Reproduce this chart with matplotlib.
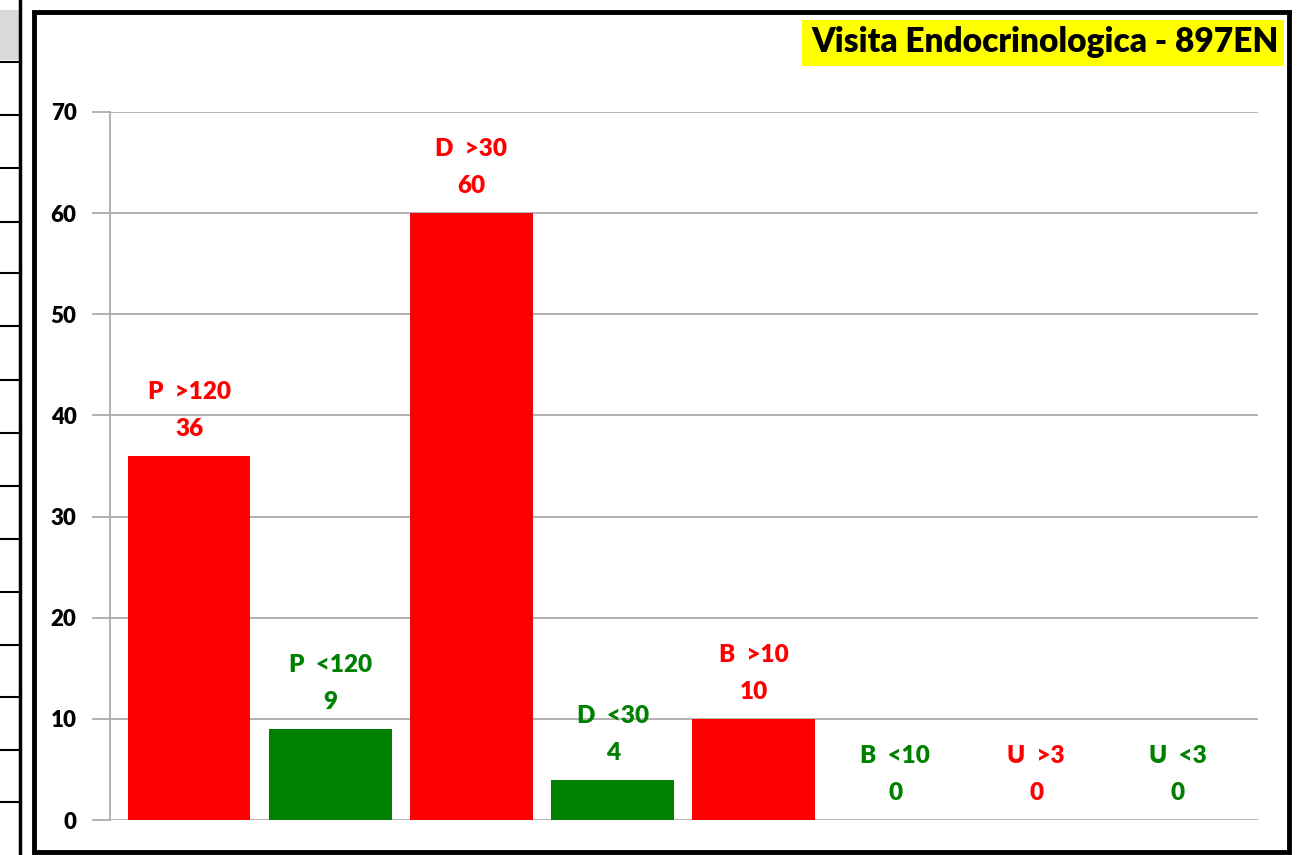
import matplotlib.pyplot as plt
from matplotlib.patches import Rectangle
from matplotlib.lines import Line2D

# chart data
categories = ["P  >120", "P  <120", "D  >30", "D  <30", "B  >10", "B  <10", "U  >3", "U  <3"]
values = [36, 9, 60, 4, 10, 0, 0, 0]
colors = ["#FF0000", "#008000", "#FF0000", "#008000", "#FF0000", "#008000", "#FF0000", "#008000"]
yticks = [0, 10, 20, 30, 40, 50, 60, 70]
title = "Visita Endocrinologica - 897EN"

plt.rcParams['font.family'] = ['Lato', 'DejaVu Sans']

W, H = 1307, 855
fig = plt.figure(figsize=(W / 100, H / 100), dpi=100)

def fx(px):
    return px / W

def fy(py):
    return 1 - py / H

# partial table on the far left
fig.add_artist(Rectangle((0, fy(60)), fx(20), fy(10) - fy(60), transform=fig.transFigure,
                         facecolor="#D9D9D9", edgecolor="none"))
for yy in [62, 115, 168, 222, 273, 326, 380, 433, 486, 539, 592, 645, 697, 750, 802]:
    fig.add_artist(Line2D([0, fx(20)], [fy(yy), fy(yy)], transform=fig.transFigure,
                          color="black", lw=1.5))
fig.add_artist(Line2D([fx(20), fx(20)], [0, 1], transform=fig.transFigure, color="black", lw=2.5))

# outer chart frame
fig.add_artist(Rectangle((fx(34), fy(852)), fx(1289) - fx(34), fy(12) - fy(852),
                         transform=fig.transFigure, facecolor="white", edgecolor="black",
                         lw=3.5, zorder=0))

ax = fig.add_axes([fx(110), fy(820), fx(1258) - fx(110), fy(112) - fy(820)])
ax.set_facecolor("none")

x = list(range(len(categories)))
ax.bar(x, values, width=0.87, color=colors, zorder=3)

ax.set_xlim(-0.56, 7.57)
ax.set_ylim(0, 70)
ax.set_yticks(yticks)
ax.set_yticklabels([str(t) for t in yticks], fontsize=16, fontweight="heavy")
ax.set_xticks([])
ax.tick_params(axis="y", length=13, color="#A6A6A6", width=1.2, pad=11)
ax.grid(axis="y", color="#A6A6A6", lw=1.2, zorder=1)
for s in ["top", "right", "bottom"]:
    ax.spines[s].set_visible(False)
ax.spines["left"].set_color("#A6A6A6")
ax.spines["left"].set_linewidth(1.2)

for xi, v, c, name in zip(x, values, colors, categories):
    ax.annotate(str(v), (xi, v), xytext=(0, 27), textcoords="offset pixels",
                ha="center", va="center", color=c, fontsize=17.5, fontweight="heavy")
    ax.annotate(name, (xi, v), xytext=(0, 64), textcoords="offset pixels",
                ha="center", va="center", color=c, fontsize=17.5, fontweight="heavy")

# yellow title box
fig.add_artist(Rectangle((fx(802), fy(66)), fx(1284) - fx(802), fy(20) - fy(66),
                         transform=fig.transFigure, facecolor="#FFFF00", edgecolor="none"))
fig.text(fx(1279), fy(42), title, ha="right", va="center", fontsize=24, fontweight="heavy")

fig.savefig("out.png", dpi=100)
